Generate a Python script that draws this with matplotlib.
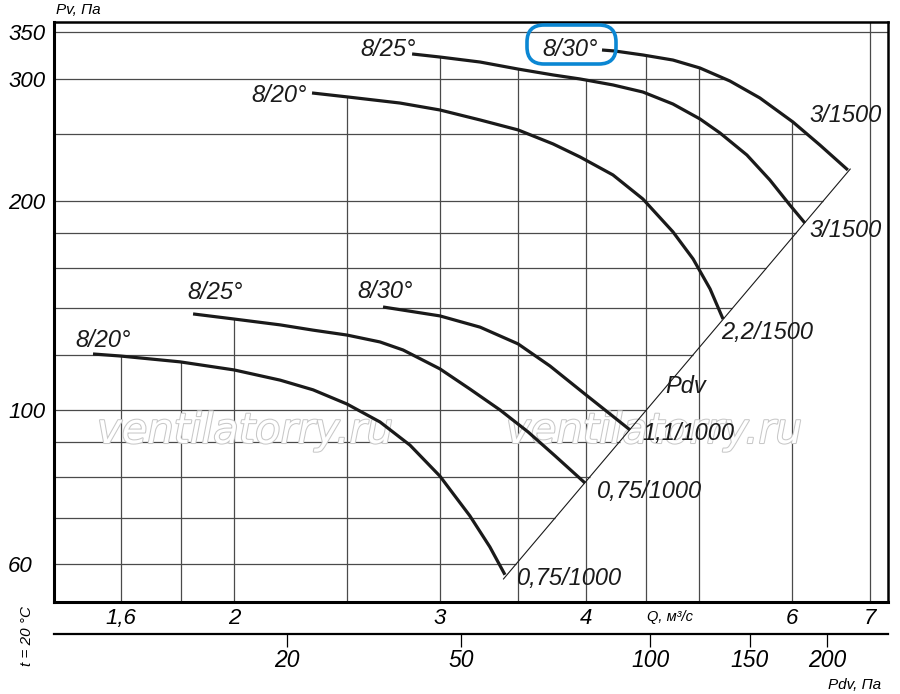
import numpy as np
import matplotlib
matplotlib.use("Agg")
import matplotlib.pyplot as plt
import matplotlib.patheffects as pe
from matplotlib.patches import FancyBboxPatch
from matplotlib.ticker import NullLocator

plt.rcParams['font.family'] = ['Liberation Sans', 'DejaVu Sans']
plt.rcParams['font.style'] = 'italic'

# fan curves, Q in m3/s, Pv in Pa
# lower group (1000 rpm)
q_l20 = [1.515, 1.598, 1.798, 2.0, 2.190, 2.337, 2.498, 2.666, 2.828, 3.000, 3.182, 3.310, 3.410]
p_l20 = [120.4, 119.6, 117.3, 114.2, 110.4, 106.9, 102.0, 96.1, 89.0, 80.3, 70.4, 63.5, 57.9]
q_l25 = [1.845, 2.0, 2.190, 2.337, 2.498, 2.666, 2.790, 3.000, 3.182, 3.377, 3.568, 3.763, 3.992]
p_l25 = [137.5, 135.2, 132.6, 130.3, 128.2, 125.3, 122.0, 114.6, 107.2, 100.0, 93.0, 85.9, 78.5]
q_l30 = [2.682, 3.000, 3.247, 3.499, 3.726, 3.992, 4.193, 4.362]
p_l30 = [140.7, 136.6, 131.6, 124.5, 115.7, 105.4, 98.7, 93.6]
# upper group (1500 rpm)
q_u20 = [2.332, 2.503, 2.773, 3.000, 3.247, 3.499, 3.749, 3.953, 4.218, 4.474, 4.747, 4.939, 5.107, 5.239]
p_u20 = [286.1, 282.3, 276.7, 270.4, 261.6, 253.1, 241.6, 231.4, 218.0, 201.3, 180.5, 165.0, 149.4, 135.2]
q_u25 = [2.840, 3.000, 3.247, 3.499, 3.749, 3.953, 4.218, 4.474, 4.747, 5.006, 5.207, 5.491, 5.745, 5.976, 6.155]
p_u25 = [325.6, 322.3, 317.0, 309.7, 303.7, 299.7, 293.8, 287.0, 275.8, 262.5, 250.6, 232.9, 214.4, 197.3, 185.9]
q_u30 = [4.128, 4.234, 4.474, 4.747, 5.006, 5.310, 5.633, 6.011, 6.339, 6.699]
p_u30 = [329.9, 328.8, 324.5, 319.1, 310.8, 297.7, 281.4, 259.9, 240.8, 221.6]

# Pdv line
pdv_q = [3.40, 6.73]
pdv_p = [57.1, 222.3]

angle_labels = ['8/20°', '8/25°', '8/30°', '8/20°', '8/25°', '8/30°']
motor_labels = ['0,75/1000', '0,75/1000', '1,1/1000', '2,2/1500', '3/1500', '3/1500']

q_ticks = [1.6, 2, 3, 4, 6, 7]
q_ticklabels = ['1,6', '2', '3', '4', '6', '7']
p_ticks = [60, 100, 200, 300, 350]
p_ticklabels = ['60', '100', '200', '300', '350']
grid_q = [1.6, 1.8, 2, 2.5, 3, 3.5, 4, 4.5, 5, 6, 7]
grid_p = [60, 70, 80, 90, 100, 120, 140, 160, 180, 200, 250, 300, 350]

pdv_ticks = [20, 50, 100, 150, 200]
pdv_tick_q = [2.22, 3.13, 4.54, 5.52, 6.43]

curves = [(q_l20, p_l20), (q_l25, p_l25), (q_l30, p_l30),
          (q_u20, p_u20), (q_u25, p_u25), (q_u30, p_u30)]

xlim = (1.403, 7.25)
ylim = (52.9, 362)

W, H = 900, 694
fig = plt.figure(figsize=(W / 100, H / 100), dpi=100)
ax = fig.add_axes([54 / W, 1 - 602 / H, 834 / W, 580 / H])
ax.set_xscale('log')
ax.set_yscale('log')
ax.set_xlim(*xlim)
ax.set_ylim(*ylim)

lg = np.log10


def top_of(q):
    tops = [10 ** np.interp(lg(q), lg(cq), lg(cp)) for cq, cp in curves if cq[0] <= q <= cq[-1]]
    return max(tops) if tops else ylim[1]


def right_of(p):
    if pdv_p[0] <= p <= pdv_p[1]:
        return 10 ** np.interp(lg(p), lg(pdv_p), lg(pdv_q))
    hits = [10 ** np.interp(lg(p), lg(cp[::-1]), lg(cq[::-1])) for cq, cp in curves
            if min(cp) <= p <= max(cp)]
    return max(hits) if hits else xlim[1]


# grid, clipped by the curves and the Pdv line
gcol = '#4a4a4a'
ax.vlines(grid_q, ylim[0], [top_of(q) for q in grid_q], color=gcol, lw=0.9, zorder=1)
ax.hlines(grid_p, xlim[0], [right_of(p) for p in grid_p], color=gcol, lw=0.9, zorder=1)

# watermark
for xc in (245, 654):
    ax.text(xc / W, 1 - 431 / H, 'ventilatorry.ru', transform=fig.transFigure,
            family='DejaVu Sans', style='italic', fontsize=30, color='white',
            ha='center', va='center', zorder=2,
            path_effects=[pe.withStroke(linewidth=1.5, foreground='#c8c8c8')])

# curves
for cq, cp in curves:
    ax.plot(cq, cp, color='#1a1a1a', lw=2.3, solid_capstyle='butt',
            solid_joinstyle='round', zorder=3)
ax.plot(pdv_q, pdv_p, color='#1a1a1a', lw=0.8, zorder=3)

# labels at curve starts and ends (offsets in pixels)
start_off = [(10, 13), (22, 21), (2, 15), (-33, -3), (-24, 4), (-32, 1)]
end_off = [(65, -4), (65, -9), (58, -4), (44, -13), (41, -8), (-2, 55)]
for (cq, cp), lab, off in zip(curves, angle_labels, start_off):
    ax.annotate(lab, (cq[0], cp[0]), xytext=off, textcoords='offset pixels',
                ha='center', va='center', fontsize=17, color='#1a1a1a', zorder=4)
for (cq, cp), lab, off in zip(curves, motor_labels, end_off):
    ax.annotate(lab, (cq[-1], cp[-1]), xytext=off, textcoords='offset pixels',
                ha='center', va='center', fontsize=17, color='#1a1a1a', zorder=4)
ax.text(4.87, 108, 'Pdv', fontsize=17, ha='center', va='center', color='#1a1a1a')

# highlight box
box = FancyBboxPatch((527 / 100, (H - 64) / 100), 0.89, 0.39,
                     boxstyle='round,pad=0,rounding_size=0.17',
                     transform=fig.dpi_scale_trans, fc='none', ec='#0b87d3', lw=2.6)
fig.add_artist(box)

# axes styling
for s in ('left', 'bottom'):
    ax.spines[s].set_linewidth(2.2)
for s in ('top', 'right'):
    ax.spines[s].set_linewidth(1.8)
ax.xaxis.set_minor_locator(NullLocator())
ax.yaxis.set_minor_locator(NullLocator())
ax.set_xticks(q_ticks)
ax.set_xticklabels(q_ticklabels)
ax.set_yticks(p_ticks)
ax.set_yticklabels(p_ticklabels)
ax.tick_params(axis='x', length=0, pad=4, labelsize=16)
ax.tick_params(axis='y', length=0, pad=33, labelsize=16)
for t in ax.get_yticklabels():
    t.set_horizontalalignment('left')

# Pdv scale under the Q axis
ax2 = fig.add_axes([54 / W, 1 - 634 / H, 834 / W, 1e-4])
ax2.set_xscale('log')
ax2.set_xlim(*xlim)
ax2.patch.set_visible(False)
for s in ('left', 'right', 'top'):
    ax2.spines[s].set_visible(False)
ax2.spines['bottom'].set_linewidth(1.6)
ax2.set_yticks([])
ax2.set_xticks(pdv_tick_q)
ax2.set_xticklabels([str(v) for v in pdv_ticks])
ax2.set_xticks(pdv_tick_q, minor=True)
ax2.tick_params(axis='x', which='major', direction='out', length=9.5, width=0.9,
                pad=1, labelsize=16.5, top=False)
ax2.tick_params(axis='x', which='minor', direction='out', length=3, width=0.9,
                top=True, bottom=False, labelbottom=False, labeltop=False)

# axis captions
fig.text(78 / W, 1 - 10 / H, 'Pv, Па', fontsize=11, ha='center', va='center')
fig.text(670 / W, 1 - 617 / H, 'Q, м³/с', fontsize=10.5, ha='center', va='center')
fig.text(855 / W, 1 - 685 / H, 'Pdv, Па', fontsize=11, ha='center', va='center')
fig.text(27 / W, 1 - 636 / H, 't = 20 °C', fontsize=11, rotation=90, ha='center', va='center')

fig.savefig('out.png', dpi=100)
